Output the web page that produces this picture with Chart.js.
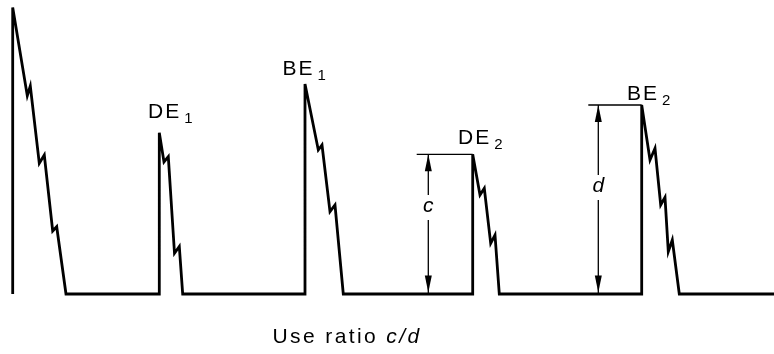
<!DOCTYPE html>
<html>
<head>
<meta charset="utf-8">
<script src="https://cdn.jsdelivr.net/npm/chart.js@4"></script>
<style>
  html, body { margin: 0; padding: 0; background: #fff; }
  canvas { display: block; }
</style>
</head>
<body>
<canvas id="myChart" width="774" height="354"></canvas>
<script>
// trace of the pulses, x along the strip, y = height above the baseline
const traceX = [12.7, 12.7, 27.3, 30.3, 39.3, 44.3, 52.7, 56.7, 66,
    159.3, 159.3, 164, 168.3, 174.5, 179.3, 182.7,
    305, 305, 318.3, 322, 330, 335, 343.3,
    472.7, 472.7, 480, 484.3, 490.7, 495, 499.3,
    641.7, 641.7, 650, 655, 660.7, 665, 668.3, 672.3, 679.3, 774]
const traceY = [0, 286.5, 198.3, 208, 130.7, 139, 63, 67.3, 0,
    0, 161.3, 132, 137.3, 40.7, 47.5, 0,
    0, 210, 144, 149, 82.3, 89, 0,
    0, 139.7, 99, 105.7, 50.7, 59, 0,
    0, 189, 134, 145.7, 89, 96.7, 42.3, 54, 0, 0]

// peak labels
const peakNames = ['DE', 'BE', 'DE', 'BE']
const peakSubs = ['1', '1', '2', '2']

// dimension arrows c and d
const dimNames = ['c', 'd']
const dimX = [428.3, 598.3]
const dimTickStart = [416.7, 588.3]
const dimTickEnd = [472.7, 641.7]
const dimHeight = [139.7, 189]

const caption = 'Use ratio '
const captionItalic = 'c/d'

const canvas = document.getElementById('myChart')
const FONT = '"Liberation Sans", Arial, Helvetica, sans-serif'

// where the labels sit (x of left edge, baseline height above the trace baseline)
const peakLabelPos = [[148, 176.5], [282.5, 219], [458, 150], [627, 194.5]]
const dimLabelHeight = [88, 108]
const captionPos = [272.5, -49]

function spacedText(ctx, text, x, y, spacing) {
    for (const ch of text) {
        ctx.fillText(ch, x, y)
        x += ctx.measureText(ch).width + spacing
    }
    return x - spacing
}

// build the dimension line datasets from the arrays
const tickData = []
const shaftData = []
dimNames.forEach((n, i) => {
    tickData.push({x: dimTickStart[i], y: dimHeight[i]}, {x: dimTickEnd[i], y: dimHeight[i]}, {x: null, y: null})
    shaftData.push({x: dimX[i], y: dimHeight[i]}, {x: dimX[i], y: dimLabelHeight[i] + 11}, {x: null, y: null})
    shaftData.push({x: dimX[i], y: dimLabelHeight[i] - 14}, {x: dimX[i], y: 0}, {x: null, y: null})
})

const labelPlugin = {
    id: 'labels',
    afterDatasetsDraw(chart) {
        const ctx = chart.ctx
        const xs = chart.scales.x
        const ys = chart.scales.y
        ctx.save()
        ctx.fillStyle = '#000'
        ctx.textBaseline = 'alphabetic'

        // peak names with subscripts
        peakNames.forEach((name, i) => {
            const px = xs.getPixelForValue(peakLabelPos[i][0])
            const py = ys.getPixelForValue(peakLabelPos[i][1])
            ctx.font = '21px ' + FONT
            ctx.textAlign = 'left'
            const end = spacedText(ctx, name, px, py, 2)
            ctx.font = '15px ' + FONT
            ctx.fillText(peakSubs[i], end + 5, py + 5)
        })

        // arrowheads and letters
        dimNames.forEach((n, i) => {
            const ax = xs.getPixelForValue(dimX[i])
            const top = ys.getPixelForValue(dimHeight[i])
            const bot = ys.getPixelForValue(0) - 1.5
            ctx.beginPath()
            ctx.moveTo(ax, top)
            ctx.lineTo(ax - 3.5, top + 17)
            ctx.lineTo(ax + 3.5, top + 17)
            ctx.closePath()
            ctx.fill()
            ctx.beginPath()
            ctx.moveTo(ax, bot)
            ctx.lineTo(ax - 3.5, bot - 17)
            ctx.lineTo(ax + 3.5, bot - 17)
            ctx.closePath()
            ctx.fill()

            ctx.font = 'italic 21px ' + FONT
            ctx.textAlign = 'center'
            ctx.textBaseline = 'middle'
            ctx.fillText(n, ax, ys.getPixelForValue(dimLabelHeight[i]))
            ctx.textBaseline = 'alphabetic'
        })

        // caption
        ctx.textAlign = 'left'
        ctx.font = '21px ' + FONT
        let cx = spacedText(ctx, caption, xs.getPixelForValue(captionPos[0]), ys.getPixelForValue(captionPos[1]), 2.4)
        ctx.font = 'italic 21px ' + FONT
        spacedText(ctx, captionItalic, cx + 2.4, ys.getPixelForValue(captionPos[1]), 2.4)
        ctx.restore()
    }
}

const config = {
    type: 'scatter',
    data: {
        datasets: [{
            label: 'trace',
            data: traceX.map((x, i) => ({x, y: traceY[i]})),
            showLine: true,
            borderColor: '#000',
            borderWidth: 2.8,
            pointRadius: 0,
            tension: 0,
            borderJoinStyle: 'miter',
            clip: false
        }, {
            label: 'ticks',
            data: tickData,
            showLine: true,
            borderColor: '#000',
            borderWidth: 1.3,
            pointRadius: 0,
            spanGaps: false,
            clip: false
        }, {
            label: 'shafts',
            data: shaftData,
            showLine: true,
            borderColor: '#000',
            borderWidth: 1.3,
            pointRadius: 0,
            spanGaps: false,
            clip: false
        }]
    },
    options: {
        responsive: false,
        animation: false,
        events: [],
        layout: { padding: 0 },
        plugins: {
            legend: { display: false },
            tooltip: { enabled: false }
        },
        scales: {
            x: { type: 'linear', min: 0, max: 774, display: false },
            y: { type: 'linear', min: -60, max: 294, display: false }
        }
    },
    plugins: [labelPlugin]
}

new Chart(canvas, config)
</script>
</body>
</html>
